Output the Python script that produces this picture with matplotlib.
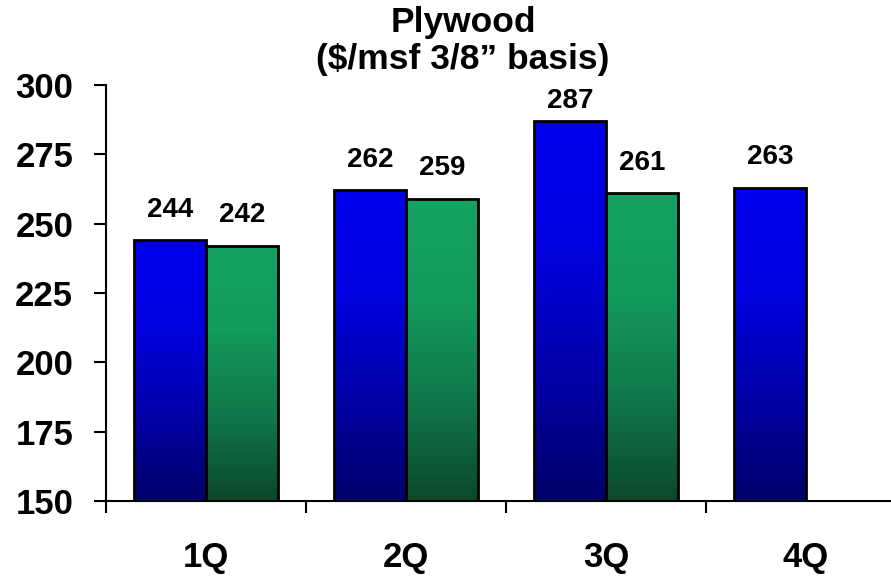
import numpy as np
import matplotlib
matplotlib.use("Agg")
import matplotlib.pyplot as plt
from matplotlib.colors import LinearSegmentedColormap

plt.rcParams['font.family'] = ['Liberation Sans', 'DejaVu Sans']
plt.rcParams['font.weight'] = 'bold'

categories = ['1Q', '2Q', '3Q', '4Q']
series_blue = [244, 262, 287, 263]
series_green = [242, 259, 261, None]
y_ticks = [150, 175, 200, 225, 250, 275, 300]
title_line1 = 'Plywood'
title_line2 = '($/msf 3/8\u201d basis)'

blue_cmap = LinearSegmentedColormap.from_list('b', ['#00006A', '#0000A8', '#0000E0', '#0000F0'])
green_cmap = LinearSegmentedColormap.from_list('g', ['#0B482A', '#10774A', '#139A5C', '#15A262'])

fig = plt.figure(figsize=(8.91, 5.76), dpi=100)
ax = fig.add_axes([106/891, 75/576, 1 - 106/891, (501-85)/576])

x = np.arange(len(categories))
w = 0.36
grad = np.linspace(0, 1, 256).reshape(-1, 1)

def gbar(xc, v, cmap):
    bars = ax.bar(xc, v - 150, bottom=150, width=w, facecolor='none',
                  edgecolor='black', linewidth=2.0, zorder=3)
    b = bars[0]
    im = ax.imshow(grad, cmap=cmap, origin='lower', aspect='auto',
                   extent=(xc - w/2, xc + w/2, 150, v), zorder=2)
    im.set_clip_path(b)
    return b

for i in range(len(categories)):
    vals = [(series_blue[i], -w/2, blue_cmap), (series_green[i], w/2, green_cmap)]
    for v, off, cm in vals:
        if v is None:
            continue
        gbar(x[i] + off, v, cm)
        if v + 8.7 > 292:
            ax.text(x[i] + off, 291.7, f'{v}', ha='center', va='baseline',
                    fontsize=20, fontweight='bold')
        else:
            ax.annotate(f'{v}', (x[i] + off, v), xytext=(0, 17),
                        textcoords='offset points', ha='center', va='baseline',
                        fontsize=20, fontweight='bold')

ax.set_xlim(-0.5, -0.5 + 785/200)
ax.set_ylim(150, 300)
ax.set_yticks(y_ticks)
ax.set_yticklabels([str(t) for t in y_ticks], fontsize=25, fontweight='bold')
ax.set_xticks(x)
ax.set_xticklabels(categories, fontsize=25, fontweight='bold')
ax.set_xticks(np.arange(len(categories)) - 0.5, minor=True)
ax.tick_params(axis='x', which='major', length=0, pad=29)
ax.tick_params(axis='x', which='minor', length=8.6, width=1.5, direction='out')
ax.tick_params(axis='y', length=8.6, width=1.5, direction='out', pad=15)
for s in ['top', 'right']:
    ax.spines[s].set_visible(False)
for s in ['left', 'bottom']:
    ax.spines[s].set_linewidth(1.5)
    ax.spines[s].set_color('black')

fig.text(463/891, 1 - 32/576, title_line1, ha='center', va='baseline',
         fontsize=25.5, fontweight='bold')
fig.text(463/891, 1 - 69/576, title_line2, ha='center', va='baseline',
         fontsize=25.5, fontweight='bold')

fig.savefig('out.png', dpi=100)
